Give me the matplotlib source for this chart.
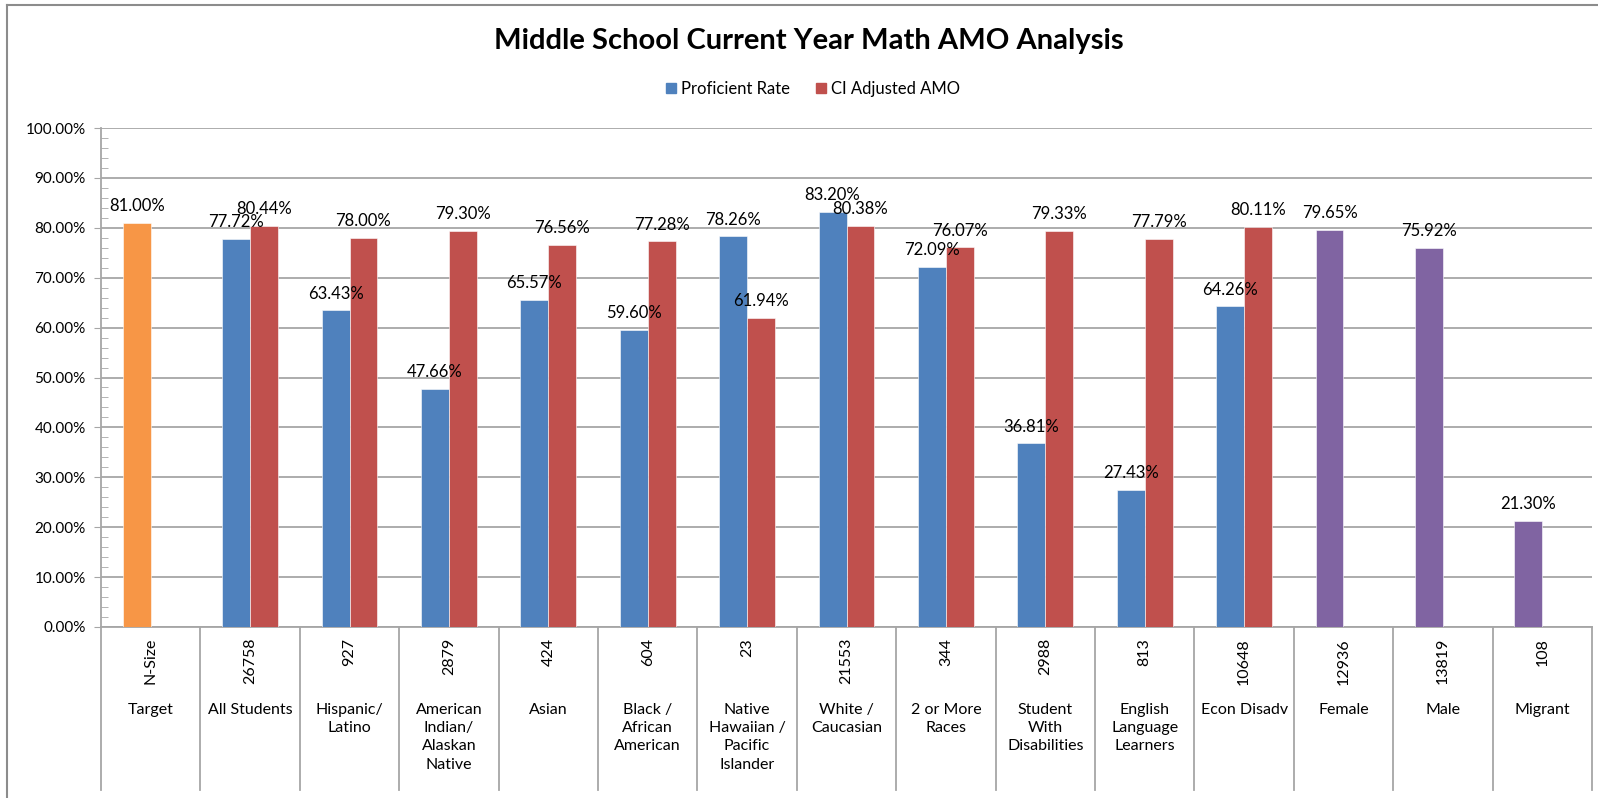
import numpy as np
import matplotlib
matplotlib.use("Agg")
import matplotlib.pyplot as plt
from matplotlib.transforms import blended_transform_factory
from matplotlib.ticker import MultipleLocator, PercentFormatter
from matplotlib.patches import Patch

plt.rcParams['font.family'] = ['Lato', 'DejaVu Sans']

# categories along the x axis
groups = ["Target", "All Students", "Hispanic/\nLatino", "American\nIndian/\nAlaskan\nNative",
          "Asian", "Black /\nAfrican\nAmerican", "Native\nHawaiian /\nPacific\nIslander",
          "White /\nCaucasian", "2 or More\nRaces", "Student\nWith\nDisabilities",
          "English\nLanguage\nLearners", "Econ Disadv", "Female", "Male", "Migrant"]
n_size = ["N-Size", "26758", "927", "2879", "424", "604", "23", "21553", "344",
          "2988", "813", "10648", "12936", "13819", "108"]

# paired series (All Students .. Econ Disadv)
paired_idx = list(range(1, 12))
proficient = [77.72, 63.43, 47.66, 65.57, 59.60, 78.26, 83.20, 72.09, 36.81, 27.43, 64.26]
ci_amo = [80.44, 78.00, 79.30, 76.56, 77.28, 61.94, 80.38, 76.07, 79.33, 77.79, 80.11]

# single bars
target_idx = [0]
target = [81.00]
gender_idx = [12, 13, 14]
gender = [79.65, 75.92, 21.30]

BLUE = "#4F81BD"
RED = "#C0504D"
ORANGE = "#F79646"
PURPLE = "#8064A2"
GRID = "#A6A6A6"

W, H = 1598, 798
fig = plt.figure(figsize=(W / 100, H / 100), dpi=100)
ax = fig.add_axes([101 / W, 1 - 627 / H, (1592 - 101) / W, (627 - 128) / H])

bw = 0.28
centers = np.arange(len(groups)) + 0.5


def bars(idx, vals, off, color):
    xs = centers[idx] + off
    ax.bar(xs, vals, width=bw, color=color, edgecolor="white", linewidth=0.4, zorder=3)
    for x, v in zip(xs, vals):
        ax.annotate(f"{v:.2f}%", (x, v), xytext=(0, 8.5), textcoords="offset points",
                    ha="center", va="baseline", fontsize=12, zorder=5)


bars(target_idx, target, -bw / 2, ORANGE)
bars(paired_idx, proficient, -bw / 2, BLUE)
bars(paired_idx, ci_amo, bw / 2, RED)
bars(gender_idx, gender, -bw / 2, PURPLE)

ax.set_xlim(0, len(groups))
ax.set_ylim(0, 100)
ax.yaxis.set_major_locator(MultipleLocator(10))
ax.yaxis.set_minor_locator(MultipleLocator(2))
ax.yaxis.set_major_formatter(PercentFormatter(decimals=2))
ax.tick_params(axis="y", which="major", direction="out", length=5, color=GRID,
               labelsize=11, pad=6)
ax.tick_params(axis="y", which="minor", direction="in", length=5, color=GRID)
ax.set_xticks([])
ax.grid(axis="y", which="major", color=GRID, linewidth=1.3, zorder=0)
for s in ["top", "right"]:
    ax.spines[s].set_visible(False)
ax.spines["left"].set_color(GRID)
ax.spines["bottom"].set_color(GRID)
ax.spines["left"].set_linewidth(1.3)
ax.spines["bottom"].set_linewidth(1.3)

# category table below the axis
tr = blended_transform_factory(ax.transData, fig.transFigure)
for i in range(len(groups) + 1):
    ax.plot([i, i], [1 - 627 / H, 1 - 790 / H], color=GRID, lw=1.3,
            transform=tr, clip_on=False)
for x, n, g in zip(centers, n_size, groups):
    ax.text(x, 1 - 638 / H, n, rotation=90, ha="center", va="top",
            fontsize=11.5, transform=tr)
    ax.text(x, 1 - 703 / H, g, ha="center", va="top", fontsize=11.5,
            linespacing=1.38, transform=tr)

fig.text(809 / W, 1 - 41 / H, "Middle School Current Year Math AMO Analysis",
         ha="center", va="center", fontsize=21, fontweight="bold")

handles = [Patch(color=BLUE, label="Proficient Rate"), Patch(color=RED, label="CI Adjusted AMO")]
fig.legend(handles=handles, loc="center", bbox_to_anchor=(813 / W, 1 - 89 / H), ncol=2,
           frameon=False, fontsize=12, handlelength=0.6, handleheight=0.6,
           handletextpad=0.3, columnspacing=1.6)

# chart frame
fig.add_artist(plt.Line2D([7 / W, 1], [1 - 5 / H, 1 - 5 / H], color="#8C8C8C", lw=1.5))
fig.add_artist(plt.Line2D([7 / W, 7 / W], [0, 1 - 5 / H], color="#8C8C8C", lw=1.5))

fig.savefig("out.png", dpi=100, facecolor="white")
